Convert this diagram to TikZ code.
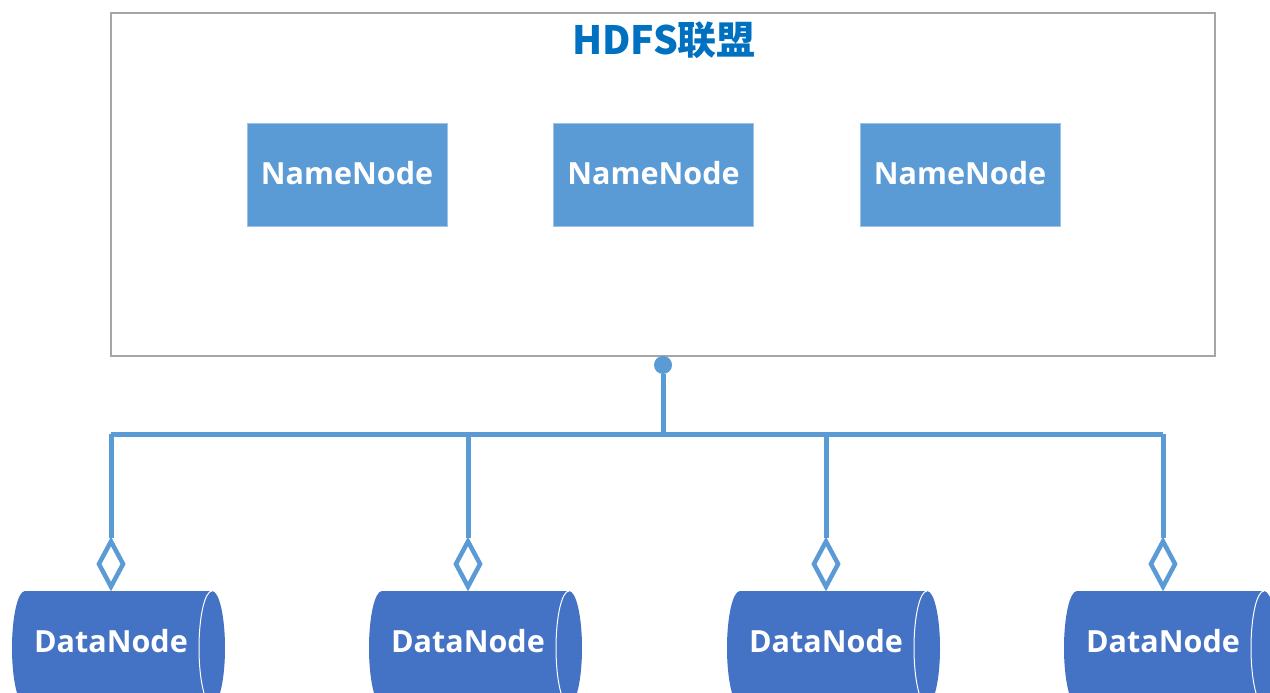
\documentclass[tikz,border=0pt]{standalone}
\usepackage{fontspec}
\setmainfont{Open Sans}
\newfontfamily\cjk{Noto Sans CJK SC}
\usetikzlibrary{shapes.geometric}
\definecolor{linkblue}{HTML}{5B9BD5}
\definecolor{nnfill}{HTML}{5B9BD5}
\definecolor{nnedge}{HTML}{9DC3E6}
\definecolor{dnfill}{HTML}{4472C4}
\definecolor{titleblue}{HTML}{0070C0}
\definecolor{frame}{HTML}{A6A6A6}
\begin{document}
\begin{tikzpicture}[x=1pt,y=-1pt,
  framebox/.style={draw=frame,line width=2.5pt,minimum width=1104pt,minimum height=343pt,inner sep=0pt},
  nnbox/.style={fill=nnfill,draw=nnedge,line width=0.8pt,minimum width=200pt,minimum height=103pt,
    text=white,inner sep=0pt},
  lbl/.style={text=white,font=\fontsize{30.5}{34}\selectfont\bfseries,inner sep=0pt},
  link/.style={draw=linkblue,line width=5pt},
  hubdot/.style={circle,fill=linkblue,minimum size=18pt,inner sep=0pt},
  agg/.style={diamond,draw=linkblue,fill=white,line width=4.5pt,minimum width=26pt,minimum height=47pt,inner sep=0pt}]
\useasboundingbox (0,0) rectangle (1270,693);
\begin{scope}
\clip (0,0) rectangle (1270,693);

% federation frame and title
\node[framebox] (fed) at (663,184.5) {};
\node[text=titleblue,font=\cjk\fontsize{39}{44}\selectfont\bfseries] (title) at (664,40) {HDFS联盟};

% name nodes
\node[nnbox] (nn1) at (347,174.5) {};
\node[nnbox] (nn2) at (653.5,174.5) {};
\node[nnbox] (nn3) at (960,174.5) {};
\node[lbl] (nn1t) at (347,173) {NameNode};
\node[lbl] (nn2t) at (653.5,173) {NameNode};
\node[lbl] (nn3t) at (960,173) {NameNode};

% hub and bus
\coordinate (hub) at (663,434);
\foreach \c [count=\i] in {111,468,826,1163} {
  \coordinate (bus\i) at (\c,434);
}
\draw[link] (bus1) -- (bus4);
\node[hubdot] (dot) at (663,365) {};
\draw[link] (dot) -- (hub);

% data nodes (horizontal cylinders) with aggregation diamonds
\foreach \c [count=\i] in {111,468,826,1163} {
  \fill[dnfill] (\c-86,591) -- (\c+101,591)
    .. controls (\c+108.2,591) and (\c+114,616.5) .. (\c+114,648)
    .. controls (\c+114,679.5) and (\c+108.2,705) .. (\c+101,705)
    -- (\c-86,705)
    .. controls (\c-93.2,705) and (\c-99,679.5) .. (\c-99,648)
    .. controls (\c-99,616.5) and (\c-93.2,591) .. (\c-86,591) -- cycle;
  \draw[white,line width=1pt] (\c+101,591)
    .. controls (\c+93.8,591) and (\c+88,616.5) .. (\c+88,648)
    .. controls (\c+88,679.5) and (\c+93.8,705) .. (\c+101,705);
  \node[lbl] (dn\i) at (\c,641) {DataNode};
  \node[agg] (dia\i) at (\c,564) {};
  \draw[link] (bus\i) -- (dia\i.north);
}
\end{scope}
\end{tikzpicture}
\end{document}
